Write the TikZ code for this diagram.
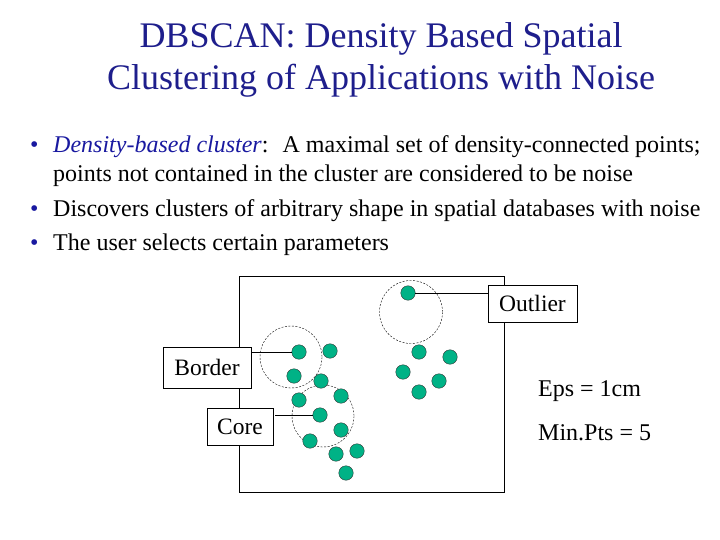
\documentclass[tikz,border=0pt]{standalone}
\usepackage{fontspec}
\setmainfont{Liberation Serif}
\begin{document}
\begin{tikzpicture}[x=1pt,y=-1pt,
  pt/.style={circle,draw=black!80,fill=ptcol,inner sep=0pt,minimum size=14.5pt},
  lab/.style={draw,fill=white,font=\fontsize{23.5}{26}\selectfont,inner sep=2pt},
  eps/.style={dashed,dash pattern=on 2pt off 1.5pt,thin},
  txt/.style={anchor=base west,inner sep=0pt,font=\fontsize{24}{28}\selectfont}]
\definecolor{ptcol}{RGB}{0,178,134}
\definecolor{ttl}{RGB}{30,30,140}
\definecolor{blu}{RGB}{25,25,160}
\useasboundingbox (0,0) rectangle (720,540);
\node[font=\fontsize{36}{42}\selectfont,text=ttl,align=center] (title) at (381,60) {DBSCAN: Density Based Spatial\\Clustering of Applications with Noise};
\node[txt,text=blu] (b1) at (30,153) {\textbullet};
\node[txt] (t1) at (53,153) {\textcolor{blu}{\textit{Density-based cluster}}: \ A maximal set of density-connected points;};
\node[txt] (t1b) at (53,182) {points not contained in the cluster are considered to be noise};
\node[txt,text=blu] (b2) at (30,216) {\textbullet};
\node[txt] (t2) at (53,216) {Discovers clusters of arbitrary shape in spatial databases with noise};
\node[txt,text=blu] (b3) at (30,250) {\textbullet};
\node[txt] (t3) at (53,250) {The user selects certain parameters};
\draw (239,276) rectangle (504,492);
\draw[eps] (411,312) circle (31.5);
\draw[eps] (291,357) circle (31);
\draw[eps] (323,416) circle (31);
\node[pt] (out) at (408,293) {};
\node[pt] (bd) at (299,352) {};
\node[pt] at (330,351) {};
\node[pt] at (294,376) {};
\node[pt] at (321,381) {};
\node[pt] at (299,400) {};
\node[pt] at (341,396) {};
\node[pt] (cr) at (320,415) {};
\node[pt] at (341,430) {};
\node[pt] at (310,441) {};
\node[pt] at (336,454) {};
\node[pt] at (357,451) {};
\node[pt] at (346,473) {};
\node[pt] at (419,352) {};
\node[pt] at (450,357) {};
\node[pt] at (403,372) {};
\node[pt] at (439,381) {};
\node[pt] at (419,392) {};
\node[lab,minimum width=89pt,minimum height=37pt] (lo) at (532.5,303.5) {Outlier};
\node[lab,minimum width=88pt,minimum height=41pt] (lb) at (207,367.5) {Border};
\node[lab,minimum width=66pt,minimum height=37pt] (lc) at (240,426.5) {Core};
\draw (out.east) -- (out.east -| lo.west);
\draw (lb.east |- bd) -- (bd);
\draw (lc.east |- cr) ++(2,0) -- (cr);
\node[txt] (e1) at (538,396) {Eps = 1cm};
\node[txt] (e2) at (538,440) {Min.Pts = 5};
\end{tikzpicture}
\end{document}
